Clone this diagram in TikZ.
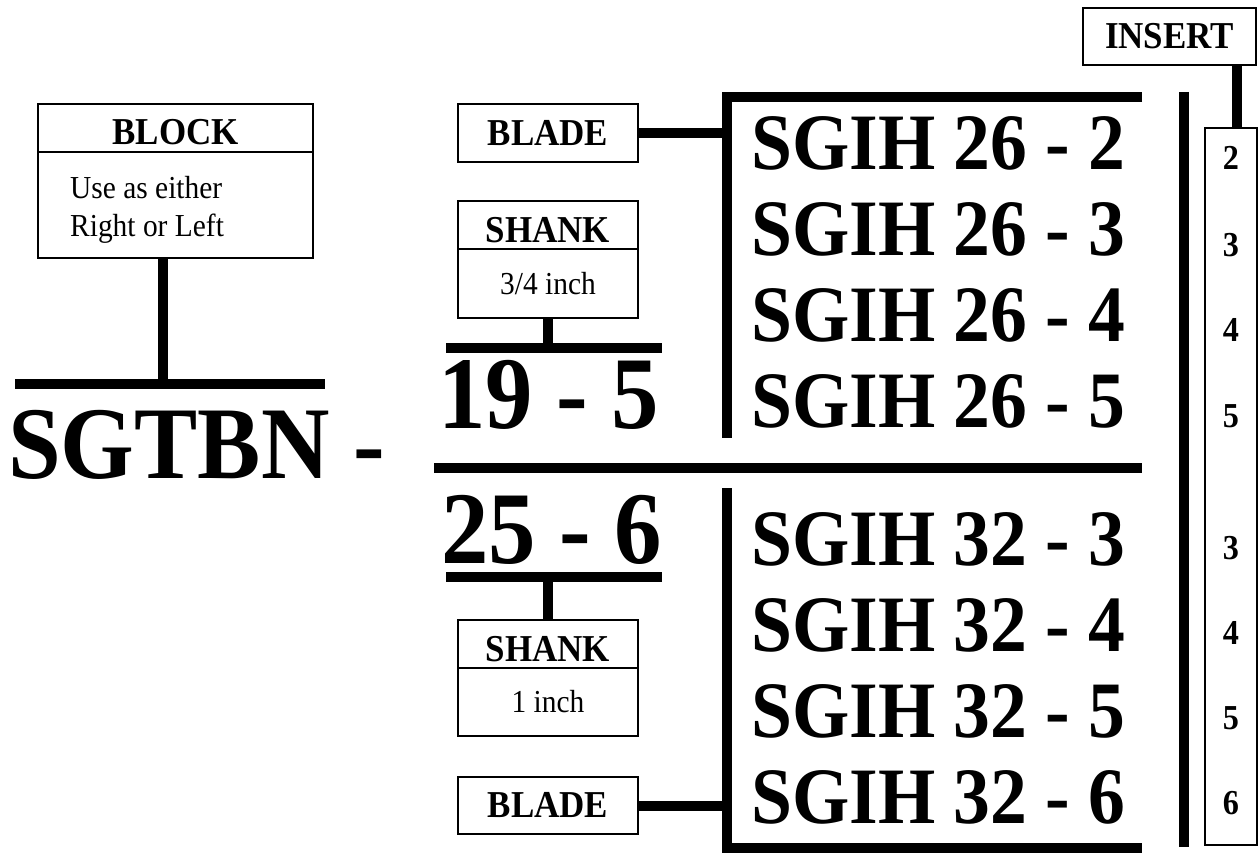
\documentclass[tikz,border=0pt]{standalone}
\usepackage{fontspec}
\setmainfont[FakeStretch=0.92]{Liberation Serif}
\usetikzlibrary{positioning}

\tikzset{
  box/.style={draw, line width=1.8pt, inner sep=0pt, outer sep=0pt,
    font=\bfseries\fontsize{38}{38}\selectfont},
  titlebox/.style={box, minimum width=#1, minimum height=48pt,
    text height=41pt, text depth=7pt},
  bodybox/.style={box, font=\fontsize{32}{35}\selectfont},
  note/.style={inner sep=0pt, align=left, font=\fontsize{32}{37}\selectfont},
  bar/.style={line width=10pt},
  big/.style={inner sep=0pt, font=\bfseries\fontsize{103}{103}\selectfont},
  code/.style={inner sep=0pt, font=\bfseries\fontsize{80}{80}\selectfont},
  digit/.style={inner sep=0pt, font=\bfseries\fontsize{35}{35}\selectfont}
}

\begin{document}
\begin{tikzpicture}[x=1pt, y=-1pt]
  \useasboundingbox (0,0) rectangle (1260,853);
  % block
  \node[titlebox=275pt, anchor=north west] (blocktitle) at (38,104) {BLOCK};
  \node[bodybox, minimum width=275pt, minimum height=106pt, below=0pt of blocktitle] (blockbody) {};
  \node[note, anchor=base west] (blocknote) at (70,236) {Use as either\\Right or Left};
  \coordinate (sgtbnbar) at (163,384);
  \draw[bar] (15,384) -- (325,384);
  \draw[bar] (blockbody.south -| sgtbnbar) -- (sgtbnbar);
  \node[big, anchor=base west] (sgtbn) at (8,478) {SGTBN -};
  % upper size
  \node[box, minimum width=180pt, minimum height=58pt, anchor=north west] (bladeup) at (458,104) {BLADE};
  \node[titlebox=180pt, anchor=north west] (shankup) at (458,201) {SHANK};
  \node[bodybox, minimum width=180pt, minimum height=69pt, below=0pt of shankup] (shankupbody) {3/4 inch};
  \coordinate (upbar) at (548,348);
  \draw[bar] (446,348) -- (662,348);
  \draw[bar] (shankupbody.south) -- (upbar);
  \node[big, anchor=base west] (upsize) at (438,428) {19 - 5};
  % lower size
  \node[big, anchor=base west] (lowsize) at (441,563) {25 - 6};
  \coordinate (lowbar) at (548,577);
  \draw[bar] (446,577) -- (662,577);
  \node[titlebox=180pt, anchor=north west] (shanklow) at (458,620) {SHANK};
  \node[bodybox, minimum width=180pt, minimum height=68pt, below=0pt of shanklow] (shanklowbody) {1 inch};
  \draw[bar] (lowbar) -- (shanklow.north);
  \node[box, minimum width=180pt, minimum height=57pt, anchor=north west] (bladelow) at (458,777) {BLADE};
  % middle line
  \draw[bar] (434,468) -- (1142,468);
  % brackets
  \coordinate (upbrk) at (727,438);
  \coordinate (lowbrk) at (727,488);
  \draw[bar] (1142,97) -| (upbrk);
  \draw[bar] (lowbrk) |- (1142,848);
  \draw[bar] (bladeup.east) -- (bladeup.east -| upbrk);
  \draw[bar] (bladelow.east) -- (bladelow.east -| lowbrk);
  \foreach \y/\t [count=\i] in {170/SGIH 26 - 2, 255/SGIH 26 - 3, 341/SGIH 26 - 4, 427/SGIH 26 - 5,
    565/SGIH 32 - 3, 651/SGIH 32 - 4, 737/SGIH 32 - 5, 823/SGIH 32 - 6}
    \node[code, anchor=base west] (row\i) at (751,\y) {\t};
  % insert
  \draw[bar] (1184,92) -- (1184,847);
  \node[box, minimum width=173pt, minimum height=57pt, anchor=north west] (insert) at (1083,8) {INSERT};
  \node[box, minimum width=52pt, minimum height=717pt, anchor=north west] (column) at (1205,128) {};
  \coordinate (insline) at (1237,0);
  \draw[bar] (insert.south -| insline) -- (column.north -| insline);
  \foreach \y/\d [count=\i] in {170/2, 256/3, 341/4, 427/5, 559/3, 644/4, 729/5, 814/6}
    \node[digit, anchor=base] (ins\i) at (1231,\y) {\d};
\end{tikzpicture}
\end{document}
